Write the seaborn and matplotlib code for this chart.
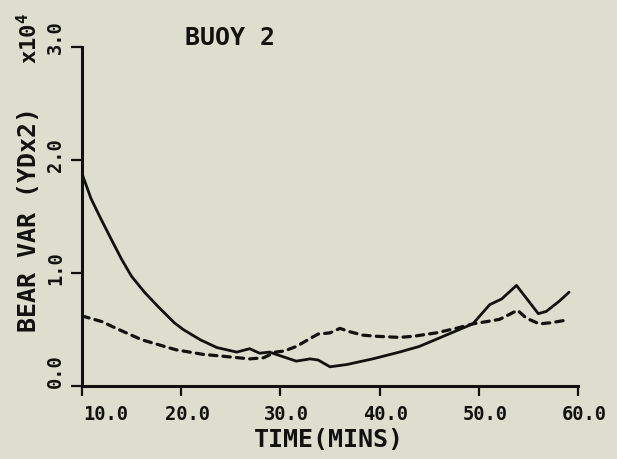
import matplotlib
matplotlib.use("Agg")
import matplotlib.pyplot as plt
import seaborn as sns
import pandas as pd
from matplotlib.transforms import ScaledTranslation

# ---- data ----
time_solid = [10.0, 10.9, 11.9, 13.0, 14.0, 15.0, 16.3, 17.7, 19.3, 20.2, 21.9,
              23.6, 25.6, 26.9, 27.9, 28.9, 29.9, 31.6, 33.0, 33.8, 35.0, 36.7,
              39.3, 42.0, 44.0, 46.7, 49.4, 51.1, 52.3, 53.8, 56.0, 56.8, 58.1,
              59.1]
var_solid = [1.88, 1.66, 1.48, 1.29, 1.12, 0.97, 0.83, 0.70, 0.56, 0.50, 0.41,
             0.34, 0.30, 0.33, 0.29, 0.30, 0.27, 0.22, 0.24, 0.23, 0.17, 0.19,
             0.24, 0.30, 0.35, 0.45, 0.55, 0.72, 0.77, 0.89, 0.64, 0.66, 0.75,
             0.83]

time_dashed = [10.0, 12.0, 13.7, 16.0, 18.7, 19.5, 22.2, 24.6, 26.9, 28.3, 29.5,
               30.4, 31.6, 32.6, 33.8, 35.0, 36.0, 37.0, 38.3, 39.7, 42.0, 43.4,
               45.7, 47.7, 49.4, 50.8, 52.1, 53.9, 54.8, 56.1, 57.3, 58.6]
var_dashed = [0.62, 0.57, 0.50, 0.41, 0.34, 0.32, 0.28, 0.26, 0.24, 0.25, 0.30,
              0.31, 0.35, 0.40, 0.46, 0.47, 0.51, 0.48, 0.45, 0.44, 0.43, 0.44,
              0.47, 0.51, 0.55, 0.57, 0.59, 0.67, 0.60, 0.55, 0.56, 0.58]

x_ticks = [10, 20, 30, 40, 50, 60]
x_tick_labels = ["10.0", "20.0", "30.0", "40.0", "50.0", "60.0"]
y_ticks = [0, 1, 2, 3]
y_tick_labels = ["0.0", "1.0", "2.0", "3.0"]

title_text = "BUOY 2"
x_label = "TIME(MINS)"
y_label = "BEAR VAR (YDx2)"

# ---- style ----
sns.set_theme(style="ticks")
plt.rcParams["font.family"] = ["DejaVu Sans Mono", "DejaVu Sans"]
plt.rcParams["font.weight"] = "bold"
plt.rcParams["mathtext.fontset"] = "custom"
plt.rcParams["mathtext.rm"] = "DejaVu Sans Mono:bold"
plt.rcParams["mathtext.it"] = "DejaVu Sans Mono:bold"

bg = "#dddecd"
ink = "#111111"
W, H = 617, 459

fig = plt.figure(figsize=(W / 100, H / 100), dpi=100, facecolor=bg)
ax = fig.add_axes([82 / W, 1 - 386 / H, (578 - 82) / W, (386 - 47) / H])
ax.set_facecolor(bg)

df_solid = pd.DataFrame({"t": time_solid, "v": var_solid})
df_dashed = pd.DataFrame({"t": time_dashed, "v": var_dashed})

sns.lineplot(data=df_solid, x="t", y="v", ax=ax, color=ink, lw=2.0,
             estimator=None, sort=False)
sns.lineplot(data=df_dashed, x="t", y="v", ax=ax, color=ink, lw=2.3,
             estimator=None, sort=False, linestyle=(0, (2.3, 1.9)),
             dash_capstyle="round")

ax.set_xlim(10, 60)
ax.set_ylim(0, 3)
ax.set_xticks(x_ticks)
ax.set_xticklabels(x_tick_labels, fontsize=13.5, fontweight="bold", color=ink)
ax.set_yticks(y_ticks)
ax.set_yticklabels(y_tick_labels, fontsize=13.5, fontweight="bold", color=ink,
                   rotation=90, va="center")
ax.set_xlabel("")
ax.set_ylabel("")

sns.despine(ax=ax)
for s in ("left", "bottom"):
    ax.spines[s].set_linewidth(2.2)
    ax.spines[s].set_color(ink)
ax.tick_params(axis="x", direction="out", length=7.5, width=1.6, color=ink, pad=6)
ax.tick_params(axis="y", direction="out", length=8, width=1.6, color=ink, pad=4)

# plotter-style label placement offsets (pixels)
for i, lab in enumerate(ax.get_xticklabels()):
    dx = 24 if i == 0 else 6
    lab.set_transform(lab.get_transform() +
                      ScaledTranslation(dx / 100, 0, fig.dpi_scale_trans))
y_offsets = [15, 4.5, 5, 10]
for lab, dy in zip(ax.get_yticklabels(), y_offsets):
    lab.set_transform(lab.get_transform() +
                      ScaledTranslation(0, dy / 100, fig.dpi_scale_trans))

fig.text(230 / W, 1 - 38 / H, title_text, ha="center", va="center",
         fontsize=18, fontweight="bold", color=ink)
fig.text(329 / W, 1 - 440 / H, x_label, ha="center", va="center",
         fontsize=18, fontweight="bold", color=ink)
fig.text(29 / W, 1 - 220 / H, y_label, ha="center", va="center", rotation=90,
         fontsize=18, fontweight="bold", color=ink)
fig.text(29 / W, 1 - 38 / H, r"x10$^{4}$", ha="center", va="center", rotation=90,
         fontsize=16, fontweight="bold", color=ink)

fig.savefig("out.png", dpi=100, facecolor=bg)
